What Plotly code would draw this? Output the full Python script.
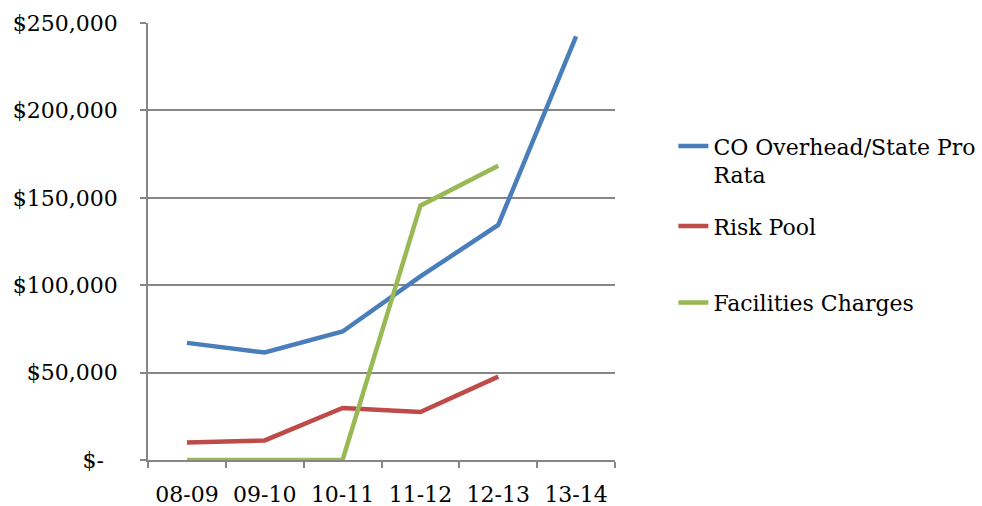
import plotly.graph_objects as go

# Fiscal years and cost series (USD)
years = ["08-09", "09-10", "10-11", "11-12", "12-13", "13-14"]
co_overhead = [67000, 61500, 73500, 105000, 134500, 242300]
risk_pool = [10000, 11200, 29800, 27500, 47700, None]
facilities = [0, 0, 0, 145500, 168400, None]

series_names = ["CO Overhead/State Pro<br>Rata", "Risk Pool", "Facilities Charges"]
series_colors = ["#4A7EBB", "#BE4B48", "#98B954"]

y_ticks = [0, 50000, 100000, 150000, 200000, 250000]
y_ticktext = ["$-\u00a0\u00a0", "$50,000", "$100,000", "$150,000", "$200,000", "$250,000"]

FONT = "DejaVu Serif"
FSIZE = 22
GRID = "#868686"

fig = go.Figure()
legend_ids = ["legend", "legend2", "legend3"]
for vals, name, color, lg in zip([co_overhead, risk_pool, facilities],
                                 series_names, series_colors, legend_ids):
    fig.add_trace(go.Scatter(
        x=years, y=vals, name=name, mode="lines",
        line=dict(color=color, width=4.5),
        legend=lg,
    ))

legend_common = dict(
    font=dict(family=FONT, size=FSIZE, color="#000000"),
    bgcolor="rgba(0,0,0,0)",
    xanchor="left", yanchor="middle",
    itemwidth=30,
    valign="top",
)

fig.update_layout(
    width=982, height=506,
    margin=dict(l=148, r=367, t=23, b=46, autoexpand=False),
    plot_bgcolor="white", paper_bgcolor="white",
    font=dict(family=FONT, size=FSIZE, color="#000000"),
    showlegend=True,
    legend=dict(x=1.125, y=0.685, **legend_common),
    legend2=dict(x=1.125, y=0.535, **legend_common),
    legend3=dict(x=1.125, y=0.36, **legend_common),
    xaxis=dict(
        type="category",
        range=[-0.5, 5.5],
        tickson="boundaries",
        ticks="outside", ticklen=6, tickcolor=GRID, tickwidth=1.5,
        showline=True, linecolor=GRID, linewidth=1.5,
        showgrid=False,
        ticklabelstandoff=14,
        automargin=False,
        tickfont=dict(family=FONT, size=FSIZE, color="#000000"),
    ),
    yaxis=dict(
        range=[0, 250000],
        tickvals=y_ticks, ticktext=y_ticktext,
        ticks="outside", ticklen=6, tickcolor=GRID, tickwidth=1.5,
        showline=True, linecolor=GRID, linewidth=1.5,
        showgrid=True, gridcolor=GRID, gridwidth=1.5,
        zeroline=False,
        ticklabelstandoff=18,
        automargin=False,
        tickfont=dict(family=FONT, size=FSIZE, color="#000000"),
    ),
)

fig.write_html("out.html")
